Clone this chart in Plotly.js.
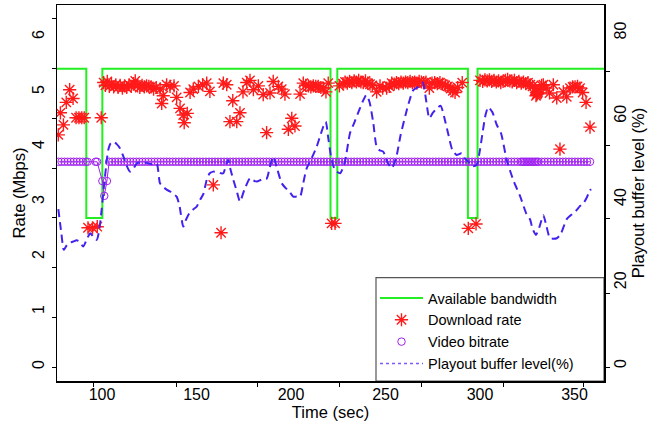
<!DOCTYPE html>
<html>
<head>
<meta charset="utf-8">
<script src="https://cdn.plot.ly/plotly-3.0.1.min.js"></script>
<style>
  html, body { margin: 0; padding: 0; background: #ffffff; }
  #chart { width: 663px; height: 424px; }
</style>
</head>
<body>
<div id="chart"></div>
<script>
// ---- Data ----
// Available bandwidth (Mbps), step function
const bwTime = [76, 91.7, 100.2, 220.9, 224.5, 293.6, 298.7, 366];
const bwRate = [5.42, 2.71, 5.42, 2.71, 5.42, 2.71, 5.42, 5.42];

// Download rate (Mbps)
const dlTime = [76.9, 78.0, 79.6, 81.1, 82.9, 84.7, 86.3, 87.8, 89.3, 90.6, 92.6, 95.0, 97.5, 99.6,
  100.9, 101.8, 102.8, 103.9, 105.0, 106.2, 107.3, 108.5, 109.6, 110.8, 112.0, 113.1, 114.3, 115.5,
  116.7, 117.6, 118.8, 120.0, 121.2, 122.4, 123.6, 124.8, 126.0, 127.3, 128.7, 130.7, 131.6, 132.4,
  134.2, 136.0, 138.1, 139.5, 141.3, 143.0, 143.5, 145.1, 146.6, 148.3, 151.0, 153.3, 155.4, 157.1,
  158.9, 163.0, 164.2, 166.0, 167.7, 169.2, 171.3, 173.0, 174.6, 176.6, 178.3, 180.1, 182.7, 185.3,
  187.1, 188.9, 190.6, 193.3, 195.1, 196.8, 198.6, 200.4, 202.1, 204.8, 206.5, 207.8, 209.2, 210.5,
  211.8, 213.1, 214.4, 215.8, 217.1, 218.5, 219.7, 221.5, 223.3, 225.6, 227.5, 228.6, 229.8, 231.0,
  232.2, 233.4, 234.6, 235.8, 237.0, 238.2, 239.4, 240.6, 241.8, 243.0, 245.3, 247.1, 248.5, 250.6,
  252.0, 253.3, 254.6, 255.8, 257.0, 258.2, 259.4, 260.6, 261.8, 263.0, 264.2, 265.4, 266.6, 267.8,
  269.0, 270.2, 271.4, 273.2, 274.6, 276.0, 277.4, 278.8, 280.2, 281.6, 283.0, 284.4, 285.6, 286.8,
  288.2, 290.6, 293.8, 297.9, 300.0, 301.4, 302.6, 303.8, 305.0, 306.2, 307.4, 308.6, 309.8, 311.0,
  312.2, 313.4, 314.6, 315.8, 317.0, 318.2, 319.4, 320.6, 321.8, 323.0, 324.2, 325.4, 326.6, 327.8,
  329.0, 329.6, 330.0, 330.3, 330.6, 331.6, 332.6, 333.5, 335.0, 336.8, 338.8, 340.6, 342.3, 344.1,
  345.9, 347.6, 349.0, 350.3, 351.6, 352.9, 354.3, 356.1, 358.2];
const dlRate = [4.22, 4.62, 4.40, 4.81, 5.04, 4.88, 4.53, 4.53, 4.53, 4.53, 2.53, 2.53, 2.55, 4.53,
  5.17, 5.12, 5.19, 5.10, 5.14, 5.09, 5.13, 5.08, 5.12, 5.07, 5.11, 5.08, 5.13, 5.10,
  5.15, 5.20, 5.11, 5.08, 5.12, 5.09, 5.11, 5.10, 5.09, 5.05, 5.08, 5.05, 4.79, 4.93,
  5.13, 5.10, 5.11, 4.90, 4.70, 4.58, 4.44, 4.61, 4.99, 5.05, 5.10, 5.13, 5.16, 5.01,
  3.31, 2.44, 5.16, 5.13, 4.46, 4.84, 4.46, 4.62, 5.00, 5.17, 5.21, 5.04, 5.11, 4.95,
  4.26, 4.98, 5.19, 5.10, 5.05, 4.96, 4.32, 4.52, 4.38, 4.96, 5.16, 5.12, 5.11, 5.09,
  5.11, 5.10, 5.10, 5.08, 5.07, 5.00, 5.16, 2.61, 2.61, 5.11, 5.15, 5.18, 5.16, 5.19,
  5.17, 5.20, 5.18, 5.21, 5.18, 5.17, 5.20, 5.16, 5.14, 5.12, 5.00, 5.11, 5.07, 5.07,
  5.10, 5.16, 5.14, 5.17, 5.15, 5.18, 5.16, 5.18, 5.17, 5.19, 5.17, 5.18, 5.16, 5.19,
  5.18, 5.17, 5.18, 5.07, 5.16, 5.17, 5.15, 5.17, 5.14, 5.12, 5.10, 5.06, 5.02, 4.99,
  5.08, 5.17, 2.52, 2.60, 5.21, 5.19, 5.22, 5.20, 5.22, 5.19, 5.21, 5.18, 5.20, 5.17,
  5.19, 5.21, 5.23, 5.20, 5.18, 5.21, 5.17, 5.19, 5.16, 5.18, 5.15, 5.17, 5.13, 5.10,
  5.06, 4.93, 4.95, 4.97, 4.99, 5.04, 5.12, 5.13, 5.07, 4.98, 5.13, 4.89, 3.96, 5.00,
  4.91, 5.07, 5.09, 5.09, 5.10, 5.07, 4.99, 4.81, 4.36];

// Video bitrate (Mbps)
const vbTime = [77.0, 78.6, 80.2, 81.8, 83.4, 85.0, 86.6, 88.2, 89.8, 91.4, 92.4, 96.6, 97.4,
  100.2, 101.2, 102.6, 103.8, 105.4, 107.0, 108.6, 110.2, 111.8, 113.4, 115.0, 116.6, 118.2,
  119.8, 121.4, 123.0, 124.6, 126.2, 127.8, 129.4, 131.0, 132.6, 134.2, 135.8, 137.4, 139.0,
  140.6, 142.2, 143.8, 145.4, 147.0, 148.6, 150.2, 151.8, 153.4, 155.0, 156.6, 158.2, 159.8,
  161.4, 163.0, 164.6, 166.2, 167.8, 169.4, 171.0, 172.6, 174.2, 175.8, 177.4, 179.0, 180.6,
  182.2, 183.8, 185.4, 187.0, 188.6, 190.2, 191.8, 193.4, 195.0, 196.6, 198.2, 199.8, 201.4,
  203.0, 204.6, 206.2, 207.8, 209.4, 211.0, 212.6, 214.2, 215.8, 217.4, 219.0, 220.6, 222.2,
  223.8, 225.4, 227.0, 228.6, 230.2, 231.8, 233.4, 235.0, 236.6, 238.2, 239.8, 241.4, 243.0,
  244.6, 246.2, 247.8, 249.4, 251.0, 252.6, 254.2, 255.8, 257.4, 259.0, 260.6, 262.2, 263.8,
  265.4, 267.0, 268.6, 270.2, 271.8, 273.4, 275.0, 276.6, 278.2, 279.8, 281.4, 283.0, 284.6,
  286.2, 287.8, 289.4, 291.0, 292.6, 294.2, 295.8, 297.4, 299.0, 300.6, 302.2, 303.8, 305.4,
  307.0, 308.6, 310.2, 311.8, 313.4, 315.0, 316.6, 318.2, 319.8, 321.4, 322.2, 323.0, 323.8,
  324.6, 325.4, 326.2, 327.0, 327.8, 328.6, 329.4, 330.2, 331.0, 332.6, 334.2, 335.8, 337.4,
  339.0, 340.6, 342.2, 343.8, 345.4, 347.0, 348.6, 350.2, 351.8, 353.4, 355.0, 356.6, 358.2];
const vbRate = [3.73, 3.73, 3.73, 3.73, 3.73, 3.73, 3.73, 3.73, 3.73, 3.73, 3.73, 3.73, 3.73,
  3.38, 3.11, 3.38, 3.73, 3.73, 3.73, 3.73, 3.73, 3.73, 3.73, 3.73, 3.73, 3.73,
  3.73, 3.73, 3.73, 3.73, 3.73, 3.73, 3.73, 3.73, 3.73, 3.73, 3.73, 3.73, 3.73,
  3.73, 3.73, 3.73, 3.73, 3.73, 3.73, 3.73, 3.73, 3.73, 3.73, 3.73, 3.73, 3.73,
  3.73, 3.73, 3.73, 3.73, 3.73, 3.73, 3.73, 3.73, 3.73, 3.73, 3.73, 3.73, 3.73,
  3.73, 3.73, 3.73, 3.73, 3.73, 3.73, 3.73, 3.73, 3.73, 3.73, 3.73, 3.73, 3.73,
  3.73, 3.73, 3.73, 3.73, 3.73, 3.73, 3.73, 3.73, 3.73, 3.73, 3.73, 3.73, 3.73,
  3.73, 3.73, 3.73, 3.73, 3.73, 3.73, 3.73, 3.73, 3.73, 3.73, 3.73, 3.73, 3.73,
  3.73, 3.73, 3.73, 3.73, 3.73, 3.73, 3.73, 3.73, 3.73, 3.73, 3.73, 3.73, 3.73,
  3.73, 3.73, 3.73, 3.73, 3.73, 3.73, 3.73, 3.73, 3.73, 3.73, 3.73, 3.73, 3.73,
  3.73, 3.73, 3.73, 3.73, 3.73, 3.73, 3.73, 3.73, 3.73, 3.73, 3.73, 3.73, 3.73,
  3.73, 3.73, 3.73, 3.73, 3.73, 3.73, 3.73, 3.73, 3.73, 3.73, 3.73, 3.73, 3.73,
  3.73, 3.73, 3.73, 3.73, 3.73, 3.73, 3.73, 3.73, 3.73, 3.73, 3.73, 3.73, 3.73,
  3.73, 3.73, 3.73, 3.73, 3.73, 3.73, 3.73, 3.73, 3.73, 3.73, 3.73, 3.73, 3.73];

// Playout buffer level (%)
const bufTime = [76.9, 78.5, 79.8, 81.3, 82.5, 84.8, 86.5, 88.1, 90.1, 92.0, 93.8, 95.5, 97.2, 98.5,
  99.8, 101.0, 102.2, 103.3, 104.6, 106.0, 107.8, 109.5, 111.2, 113.0, 114.8, 116.5, 118.4, 121.0,
  123.6, 126.2, 128.9, 130.7, 132.5, 134.4, 136.5, 138.2, 139.5, 141.0, 143.0, 144.5, 146.2, 148.2,
  150.1, 152.0, 153.6, 155.4, 157.0, 158.9, 161.0, 163.0, 164.2, 166.0, 166.8, 168.0, 169.5, 171.3,
  173.0, 175.3, 178.3, 180.0, 181.9, 184.5, 187.1, 188.8, 190.6, 192.8, 195.1, 197.5, 199.3, 201.2,
  203.0, 204.8, 206.5, 208.3, 211.0, 213.6, 215.6, 217.1, 218.4, 219.8, 221.5, 223.3, 226.0, 228.5,
  231.2, 233.5, 235.5, 237.9, 239.8, 241.5, 243.5, 245.3, 247.0, 248.8, 251.0, 253.3, 255.6, 258.0,
  260.7, 262.5, 264.7, 267.2, 269.7, 271.5, 273.2, 275.0, 277.1, 279.2, 281.0, 283.1, 285.3, 287.6,
  290.3, 292.0, 293.8, 296.0, 298.2, 300.0, 301.5, 303.0, 304.4, 306.5, 308.9, 311.2, 314.1, 316.0,
  318.0, 321.3, 324.6, 326.5, 327.8, 329.6, 331.5, 333.5, 335.2, 337.0, 338.8, 340.6, 342.6, 345.9,
  349.0, 351.2, 352.6, 354.7, 356.5, 357.8, 358.7];
const bufLevel = [37.7, 31.9, 27.9, 29.0, 29.6, 29.9, 30.2, 29.9, 28.7, 30.5, 31.9, 31.0, 30.3, 32.5,
  37.5, 43.0, 48.0, 51.9, 53.5, 53.9, 53.3, 52.3, 50.5, 48.2, 46.7, 47.3, 48.7, 48.9,
  48.8, 48.5, 48.7, 43.9, 43.0, 42.3, 41.8, 41.2, 40.7, 38.5, 33.5, 35.2, 36.7, 37.6,
  38.3, 40.0, 41.3, 44.7, 46.3, 46.7, 46.6, 46.3, 46.3, 48.8, 49.5, 47.2, 44.7, 42.0,
  39.5, 42.3, 45.1, 44.6, 44.3, 44.8, 45.0, 47.8, 50.3, 47.2, 43.9, 42.6, 41.8, 40.7,
  40.7, 40.7, 44.0, 47.5, 50.0, 52.7, 55.5, 57.5, 58.7, 54.5, 49.5, 47.1, 46.3, 49.0,
  55.9, 58.5, 60.8, 63.5, 65.1, 63.5, 58.5, 52.7, 51.8, 51.5, 49.0, 47.5, 50.0, 55.5,
  60.5, 63.5, 66.3, 67.0, 68.1, 63.8, 59.5, 60.8, 61.9, 62.5, 59.9, 55.9, 52.0, 50.7,
  51.1, 49.8, 49.1, 48.0, 48.3, 52.0, 56.5, 60.5, 62.2, 61.0, 57.9, 55.8, 49.5, 46.8,
  44.2, 40.7, 36.5, 35.2, 33.0, 31.5, 33.5, 36.2, 33.5, 30.7, 30.6, 30.7, 31.6, 35.3,
  36.6, 37.5, 38.3, 39.1, 40.5, 41.9, 42.5];

// Axis tick labels
const rateTicks = [0, 1, 2, 3, 4, 5, 6];
const bufTicks = [0, 20, 40, 60, 80];
const timeTicks = [100, 150, 200, 250, 300, 350];

// ---- Styling / layout ----
const FONT = 'Liberation Sans, Arial, Helvetica, sans-serif';
const W = 663, H = 424;
const M = { l: 57, r: 59, t: 5, b: 43 };
const plotW = W - M.l - M.r, plotH = H - M.t - M.b;
const px2paperX = px => (px - M.l) / plotW;
const px2paperY = py => (H - M.b - py) / plotH;

const PURPLE = '#a020f0';
const traces = [
  {
    name: 'Available bandwidth', x: bwTime, y: bwRate, type: 'scatter', mode: 'lines',
    line: { color: '#22ee22', width: 2, shape: 'hv' }, xaxis: 'x', yaxis: 'y'
  },
  {
    name: 'Download rate', x: dlTime, y: dlRate, type: 'scatter', mode: 'markers',
    marker: { symbol: 'asterisk-open', size: 11, color: '#ff1a1a', line: { color: '#ff1a1a', width: 1.4 } },
    xaxis: 'x', yaxis: 'y'
  },
  {
    name: 'Video bitrate', x: vbTime, y: vbRate, type: 'scatter', mode: 'lines',
    line: { color: PURPLE, width: 1 }, xaxis: 'x', yaxis: 'y', showlegend: false
  },
  {
    name: 'Video bitrate', x: vbTime, y: vbRate, type: 'scatter', mode: 'markers',
    marker: { symbol: 'circle-open', size: 7.5, color: PURPLE, line: { color: PURPLE, width: 1 } },
    xaxis: 'x', yaxis: 'y'
  },
  {
    name: 'Playout buffer level(%)', x: bufTime, y: bufLevel, type: 'scatter', mode: 'lines',
    line: { color: '#4422ee', width: 2, dash: '8px,5px', shape: 'spline', smoothing: 0.6 },
    xaxis: 'x', yaxis: 'y2', showlegend: false
  },
  {
    name: 'Playout buffer level(%)', x: [null], y: [null], type: 'scatter', mode: 'lines',
    line: { color: '#7a5af8', width: 1.5, dash: 'dot' }, xaxis: 'x', yaxis: 'y2', showlegend: true
  }
];

const axisFont = { family: FONT, size: 16, color: '#000' };
const titleFont = { family: FONT, size: 16.5, color: '#000' };

const layout = {
  width: W, height: H,
  margin: M,
  paper_bgcolor: '#ffffff', plot_bgcolor: '#ffffff',
  showlegend: true,
  font: { family: FONT, size: 16, color: '#000' },
  xaxis: {
    range: [76.2, 365.6], showgrid: false, zeroline: false,
    showline: true, linecolor: '#000', linewidth: 1.5, mirror: true,
    tickmode: 'array', tickvals: timeTicks, ticktext: timeTicks.map(String),
    ticks: '', ticklabelstandoff: -2, tickfont: axisFont,
    minor: { ticks: 'outside', ticklen: 4, tickwidth: 1, tickcolor: '#000', tickmode: 'array',
      tickvals: [95.77, 139.2, 182.3, 225.4, 268.8, 312.2, 355.0] },
    title: { text: 'Time (sec)', font: titleFont, standoff: 3 }
  },
  yaxis: {
    range: [-0.255, 6.58], showgrid: false, zeroline: false,
    showline: true, linecolor: '#000', linewidth: 1.5,
    tickmode: 'array', tickvals: rateTicks, ticktext: rateTicks.map(String),
    ticks: '', tickangle: -90, ticklabelstandoff: 5, tickfont: axisFont,
    minor: { ticks: 'outside', ticklen: 4, tickwidth: 1, tickcolor: '#000', tickmode: 'array',
      tickvals: [6.327, 5.418, 4.509, 3.6, 2.709, 1.8, 0.891, -0.018] },
    title: { text: 'Rate (Mbps)', font: titleFont, standoff: 0 }
  },
  yaxis2: {
    range: [-3.6, 86.73], overlaying: 'y', side: 'right', showgrid: false, zeroline: false,
    showline: true, linecolor: '#000', linewidth: 1.5,
    tickmode: 'array', tickvals: bufTicks, ticktext: bufTicks.map(String),
    ticks: '', tickangle: -90, ticklabelstandoff: 1, tickfont: axisFont,
    minor: { ticks: 'outside', ticklen: 4, tickwidth: 1, tickcolor: '#000', tickmode: 'array',
      tickvals: [70.87, 53.09, 35.32, 17.54, -0.24] },
    title: { text: 'Playout buffer level (%)', font: titleFont, standoff: 3 }
  },
  legend: {
    x: px2paperX(375), y: px2paperY(282), xanchor: 'left', yanchor: 'top',
    bgcolor: 'rgba(0,0,0,0)', borderwidth: 0, itemwidth: 43,
    font: { family: FONT, size: 14.5, color: '#000' },
    tracegroupgap: 0
  },
  shapes: [
    { type: 'rect', xref: 'paper', yref: 'paper', x0: px2paperX(376), x1: 1,
      y0: 0, y1: px2paperY(277.7), line: { color: '#555', width: 1.2 }, fillcolor: 'rgba(255,255,255,0)', layer: 'below' }
  ]
};

Plotly.newPlot('chart', traces, layout, { displayModeBar: false, staticPlot: true });
</script>
</body>
</html>
